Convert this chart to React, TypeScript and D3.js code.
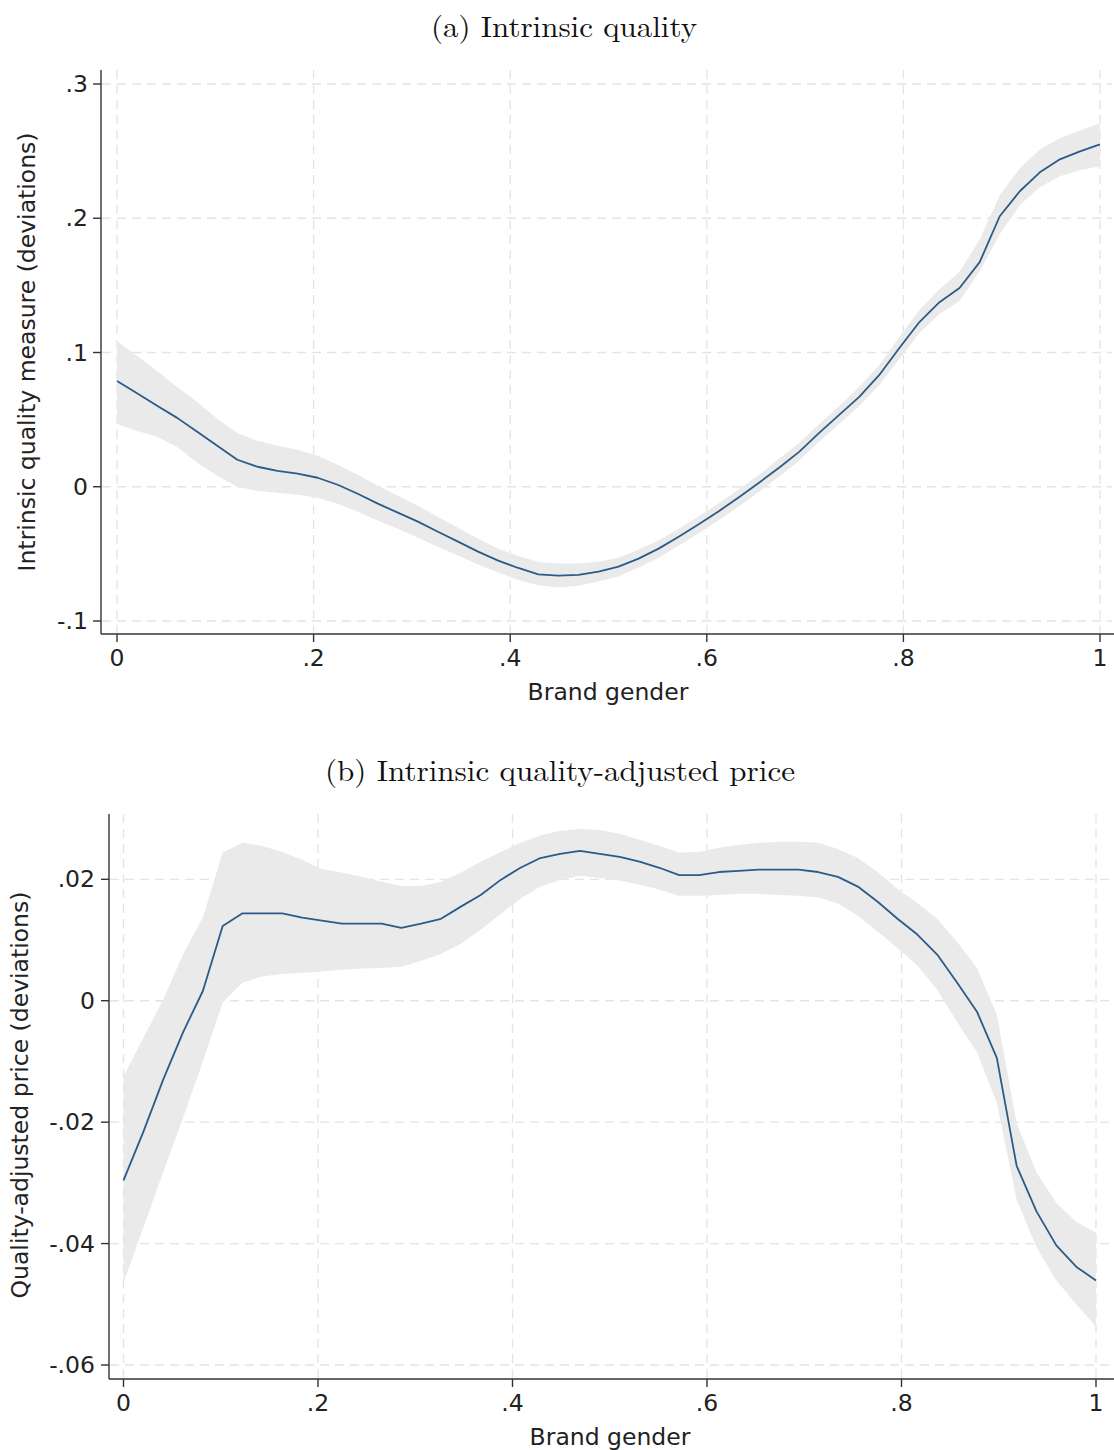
import React from "react";
import * as d3 from "d3";

// Shared x grid (brand gender)
const xGrid = [0, .0204, .0408, .0612, .0816, .102, .1224, .1429, .1633, .1837, .2041, .2245, .2449, .2653, .2857, .3061, .3265, .3469, .3673, .3878, .4082, .4286, .449, .4694, .4898, .5102, .5306, .551, .5714, .5918, .6122, .6327, .6531, .6735, .6939, .7143, .7347, .7551, .7755, .7959, .8163, .8367, .8571, .8776, .898, .9184, .9388, .9592, .9796, 1];

// Panel (a): intrinsic quality
const aMean = [.0788, .0696, .0604, .0513, .0409, .0305, .0201, .0149, .0119, .0097, .0067, .0015, -.0052, -.0126, -.0193, -.0260, -.0335, -.0409, -.0483, -.0550, -.0605, -.0652, -.0662, -.0656, -.0632, -.0595, -.0535, -.0461, -.0372, -.0280, -.0182, -.0078, .0030, .0141, .0260, .0401, .0535, .0669, .0833, .1033, .1227, .1375, .1480, .1673, .2015, .2201, .2342, .2439, .2498, .2550];
const aHi = [.1085, .0974, .0862, .0743, .0632, .0506, .0401, .0342, .0305, .0275, .0230, .0164, .0089, .0007, -.0067, -.0141, -.0223, -.0305, -.0387, -.0461, -.0516, -.0561, -.0572, -.0572, -.0558, -.0528, -.0468, -.0401, -.0312, -.0220, -.0123, -.0019, .0089, .0208, .0327, .0468, .0602, .0743, .0907, .1115, .1316, .1472, .1599, .1844, .2171, .2372, .2513, .2595, .2654, .2706];
const aLo = [.0468, .0416, .0372, .0297, .0178, .0082, .0000, -.0030, -.0045, -.0060, -.0082, -.0126, -.0186, -.0253, -.0312, -.0379, -.0446, -.0513, -.0580, -.0639, -.0694, -.0734, -.0751, -.0738, -.0706, -.0669, -.0602, -.0528, -.0439, -.0346, -.0249, -.0145, -.0037, .0074, .0193, .0335, .0468, .0602, .0758, .0952, .1145, .1286, .1383, .1606, .1881, .2097, .2230, .2312, .2357, .2387];

// Panel (b): intrinsic quality-adjusted price
const bMean = [-.0296, -.0216, -.0130, -.0052, .0016, .0123, .0144, .0144, .0144, .0137, .0132, .0127, .0127, .0127, .0120, .0127, .0135, .0155, .0174, .0199, .0219, .0235, .0242, .0247, .0242, .0237, .0229, .0219, .0207, .0207, .0212, .0214, .0216, .0216, .0216, .0212, .0204, .0188, .0163, .0135, .0109, .0076, .0030, -.0018, -.0094, -.0272, -.0347, -.0403, -.0438, -.0461];
const bHi = [-.0125, -.0061, .0002, .0076, .0137, .0244, .0260, .0255, .0245, .0232, .0217, .0211, .0204, .0196, .0189, .0189, .0196, .0211, .0229, .0245, .0260, .0272, .0280, .0283, .0281, .0275, .0265, .0255, .0244, .0245, .0252, .0257, .0260, .0262, .0262, .0260, .0250, .0235, .0212, .0184, .0161, .0135, .0097, .0054, -.0023, -.0202, -.0283, -.0333, -.0364, -.0382];
const bLo = [-.0464, -.0374, -.0282, -.0193, -.0100, -.0003, .0030, .0040, .0044, .0046, .0048, .0051, .0053, .0054, .0056, .0066, .0077, .0094, .0117, .0143, .0168, .0188, .0199, .0206, .0202, .0198, .0191, .0183, .0173, .0173, .0174, .0176, .0176, .0174, .0173, .0170, .0160, .0140, .0114, .0087, .0058, .0018, -.0035, -.0085, -.0168, -.0328, -.0406, -.0461, -.0500, -.0537];

const xTicks = [0, .2, .4, .6, .8, 1];
const xTickLabels = ["0", ".2", ".4", ".6", ".8", "1"];
const aYTicks = [-.1, 0, .1, .2, .3];
const aYTickLabels = ["-.1", "0", ".1", ".2", ".3"];
const bYTicks = [-.06, -.04, -.02, 0, .02];
const bYTickLabels = ["-.06", "-.04", "-.02", "0", ".02"];

const SANS = "DejaVu Sans, Verdana, sans-serif";
const SERIF = "Latin Modern Roman, Liberation Serif, Times New Roman, serif";
const LINE = "#2b5b88";
const BAND = "#eaeaea";
const GRID = "#e4e4e4";
const AXIS = "#333333";
const FS = 23.5;

type PanelProps = {
  title: string; titleX: number; titleY: number; titleLen: number;
  yLabel: string; yLabelX: number; yLabelY: number;
  xLabelX: number; xLabelY: number;
  axisX: number; axisTop: number; axisBottom: number; plotRight: number;
  xRange: [number, number];
  yDomain: [number, number]; yRange: [number, number];
  yTicks: number[]; yTickLabels: string[];
  mean: number[]; hi: number[]; lo: number[];
  yLabelRight: number; xLabelCenterY: number;
};

function Panel(p: PanelProps) {
  const x = d3.scaleLinear().domain([0, 1]).range(p.xRange);
  const y = d3.scaleLinear().domain(p.yDomain).range(p.yRange);
  const area = d3.area<number>()
    .x((_, i) => x(xGrid[i]))
    .y0((_, i) => y(p.lo[i]))
    .y1((_, i) => y(p.hi[i]));
  const line = d3.line<number>()
    .x((_, i) => x(xGrid[i]))
    .y((d) => y(d));
  return (
    <g>
      <text x={p.titleX} y={p.titleY} textAnchor="middle" dominantBaseline="central"
        fontFamily={SERIF} fontSize={29} fill="#111" textLength={p.titleLen} lengthAdjust="spacingAndGlyphs">{p.title}</text>
      {p.yTicks.map((t) => (
        <line key={"gy" + t} x1={p.axisX + 1} x2={p.plotRight} y1={y(t)} y2={y(t)}
          stroke={GRID} strokeWidth={1.3} strokeDasharray="9,6" />
      ))}
      {xTicks.map((t) => (
        <line key={"gx" + t} x1={x(t)} x2={x(t)} y1={p.axisTop} y2={p.axisBottom - 1}
          stroke={GRID} strokeWidth={1.3} strokeDasharray="9,6" />
      ))}
      <path d={area(p.mean) || ""} fill={BAND} stroke="none" />
      <path d={line(p.mean) || ""} fill="none" stroke={LINE} strokeWidth={1.8} strokeLinejoin="round" />
      <line x1={p.axisX} x2={p.axisX} y1={p.axisTop} y2={p.axisBottom} stroke={AXIS} strokeWidth={1.4} />
      <line x1={p.axisX} x2={1114} y1={p.axisBottom} y2={p.axisBottom} stroke={AXIS} strokeWidth={1.4} />
      {p.yTicks.map((t, i) => (
        <g key={"ty" + t}>
          <line x1={p.axisX - 8} x2={p.axisX} y1={y(t)} y2={y(t)} stroke={AXIS} strokeWidth={1.4} />
          <text x={p.yLabelRight} y={y(t)} textAnchor="end" dominantBaseline="central"
            fontFamily={SANS} fontSize={FS} fill="#222">{p.yTickLabels[i]}</text>
        </g>
      ))}
      {xTicks.map((t, i) => (
        <g key={"tx" + t}>
          <line x1={x(t)} x2={x(t)} y1={p.axisBottom} y2={p.axisBottom + 8} stroke={AXIS} strokeWidth={1.4} />
          <text x={x(t)} y={p.xLabelCenterY} textAnchor="middle" dominantBaseline="central"
            fontFamily={SANS} fontSize={FS} fill="#222">{xTickLabels[i]}</text>
        </g>
      ))}
      <text x={p.xLabelX} y={p.xLabelY} textAnchor="middle" dominantBaseline="central"
        fontFamily={SANS} fontSize={FS} fill="#222">Brand gender</text>
      <text transform={`translate(${p.yLabelX},${p.yLabelY}) rotate(-90)`} textAnchor="middle" dominantBaseline="central"
        fontFamily={SANS} fontSize={FS} fill="#222">{p.yLabel}</text>
    </g>
  );
}

export default function App() {
  return (
    <svg width={1114} height={1450} style={{ position: "absolute", left: 0, top: 0, background: "#fff" }}>
      <rect x={0} y={0} width={1114} height={1450} fill="#fff" />
      <Panel
        title="(a) Intrinsic quality" titleX={564} titleY={24} titleLen={266}
        yLabel="Intrinsic quality measure (deviations)" yLabelX={27} yLabelY={352}
        xLabelX={608} xLabelY={692}
        axisX={101} axisTop={70} axisBottom={634} plotRight={1112}
        xRange={[117, 1100]} yDomain={[-0.1, 0.3]} yRange={[621, 84]}
        yTicks={aYTicks} yTickLabels={aYTickLabels}
        mean={aMean} hi={aHi} lo={aLo}
        yLabelRight={88} xLabelCenterY={658}
      />
      <Panel
        title="(b) Intrinsic quality-adjusted price" titleX={560} titleY={768} titleLen={470}
        yLabel="Quality-adjusted price (deviations)" yLabelX={20} yLabelY={1095}
        xLabelX={610} xLabelY={1437}
        axisX={109} axisTop={814} axisBottom={1379} plotRight={1112}
        xRange={[123.5, 1096]} yDomain={[-0.06, 0.02]} yRange={[1365, 879.3]}
        yTicks={bYTicks} yTickLabels={bYTickLabels}
        mean={bMean} hi={bHi} lo={bLo}
        yLabelRight={95} xLabelCenterY={1403}
      />
    </svg>
  );
}
